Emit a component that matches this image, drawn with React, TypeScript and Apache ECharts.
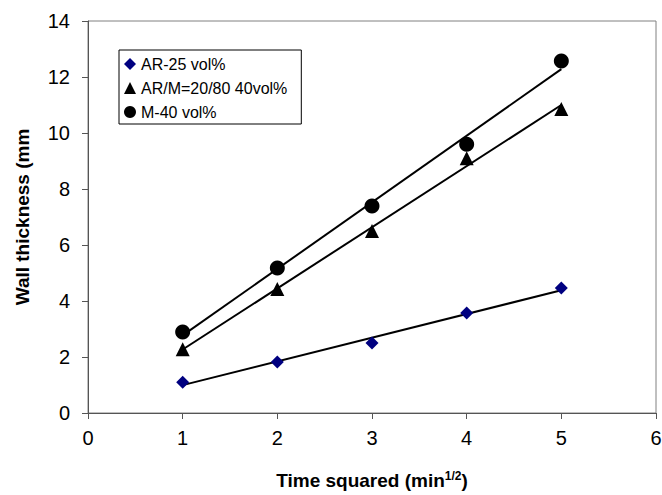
import React, { useEffect, useRef } from "react";
import * as echarts from "echarts";

const xValues = [1, 2, 3, 4, 5];
const arValues = [1.1, 1.82, 2.5, 3.57, 4.46];
const mixValues = [2.28, 4.43, 6.5, 9.1, 10.86];
const mValues = [2.89, 5.18, 7.39, 9.6, 12.57];
const seriesNames = ["AR-25 vol%", "AR/M=20/80 40vol%", "M-40 vol%"];

function fit(xs: number[], ys: number[]) {
  const n = xs.length;
  const mx = xs.reduce((a, b) => a + b, 0) / n;
  const my = ys.reduce((a, b) => a + b, 0) / n;
  let sxy = 0, sxx = 0;
  for (let i = 0; i < n; i++) {
    sxy += (xs[i] - mx) * (ys[i] - my);
    sxx += (xs[i] - mx) ** 2;
  }
  const k = sxy / sxx;
  const b = my - k * mx;
  const x0 = xs[0], x1 = xs[n - 1];
  return [[x0, k * x0 + b], [x1, k * x1 + b]];
}

const pts = (ys: number[]) => xValues.map((x, i) => [x, ys[i]]);

export default function App() {
  const ref = useRef<HTMLDivElement>(null);
  useEffect(() => {
    const chart = echarts.init(ref.current!, null, { renderer: "svg" });
    const font = "Liberation Sans, Arial, sans-serif";
    const trend = (ys: number[]) => ({
      type: "line",
      data: fit(xValues, ys),
      symbol: "none",
      lineStyle: { color: "#000", width: 2 },
      silent: true,
      z: 1,
    });
    chart.setOption({
      animation: false,
      backgroundColor: "#fff",
      textStyle: { fontFamily: font },
      grid: {
        left: 88, top: 21, right: 6, bottom: 82,
        containLabel: false,
        outerBoundsMode: "none",
        show: true, borderColor: "#808080", borderWidth: 1,
      },
      legend: {
        orient: "vertical",
        left: 119, top: 50,
        data: seriesNames,
        borderColor: "#000", borderWidth: 1,
        padding: [6, 14, 4, 5],
        itemGap: 8,
        itemWidth: 12, itemHeight: 12,
        textStyle: { fontSize: 16, color: "#000", fontFamily: font },
      },
      xAxis: {
        type: "value", min: 0, max: 6, interval: 1,
        name: "{b|Time squared (min}{s|1/2}{b|)}",
        nameLocation: "middle", nameGap: 57,
        nameTextStyle: {
          rich: {
            b: { fontSize: 19, fontWeight: "bold", color: "#000", fontFamily: font },
            s: { fontSize: 12, fontWeight: "bold", color: "#000", fontFamily: font, verticalAlign: "top", padding: [0, 0, 8, 0] },
          },
        },
        axisLine: { onZero: false, lineStyle: { color: "#555", width: 1 } },
        axisTick: { show: true, length: 6, lineStyle: { color: "#555" } },
        axisLabel: { fontSize: 20, color: "#000", margin: 15, fontFamily: font },
        splitLine: { show: false },
      },
      yAxis: {
        type: "value", min: 0, max: 14, interval: 2,
        name: "Wall thickness (mm",
        nameLocation: "middle", nameGap: 56,
        nameTextStyle: { fontSize: 19, fontWeight: "bold", color: "#000", fontFamily: font },
        axisLine: { show: true, onZero: false, lineStyle: { color: "#555", width: 1 } },
        axisTick: { show: true, length: 6, lineStyle: { color: "#555" } },
        axisLabel: { fontSize: 20, color: "#000", margin: 18, fontFamily: font },
        splitLine: { show: false },
      },
      series: [
        trend(arValues),
        trend(mixValues),
        trend(mValues),
        {
          name: seriesNames[0], type: "scatter", data: pts(arValues),
          symbol: "diamond", symbolSize: 13,
          itemStyle: { color: "#000080", opacity: 1 }, z: 3,
        },
        {
          name: seriesNames[1], type: "scatter", data: pts(mixValues),
          symbol: "triangle", symbolSize: 14,
          itemStyle: { color: "#000", opacity: 1 }, z: 3,
        },
        {
          name: seriesNames[2], type: "scatter", data: pts(mValues),
          symbol: "circle", symbolSize: 15,
          itemStyle: { color: "#000", opacity: 1 }, z: 3,
        },
      ],
    });
    return () => chart.dispose();
  }, []);
  return <div ref={ref} style={{ width: 662, height: 495, position: "absolute", left: 0, top: 0 }} />;
}
